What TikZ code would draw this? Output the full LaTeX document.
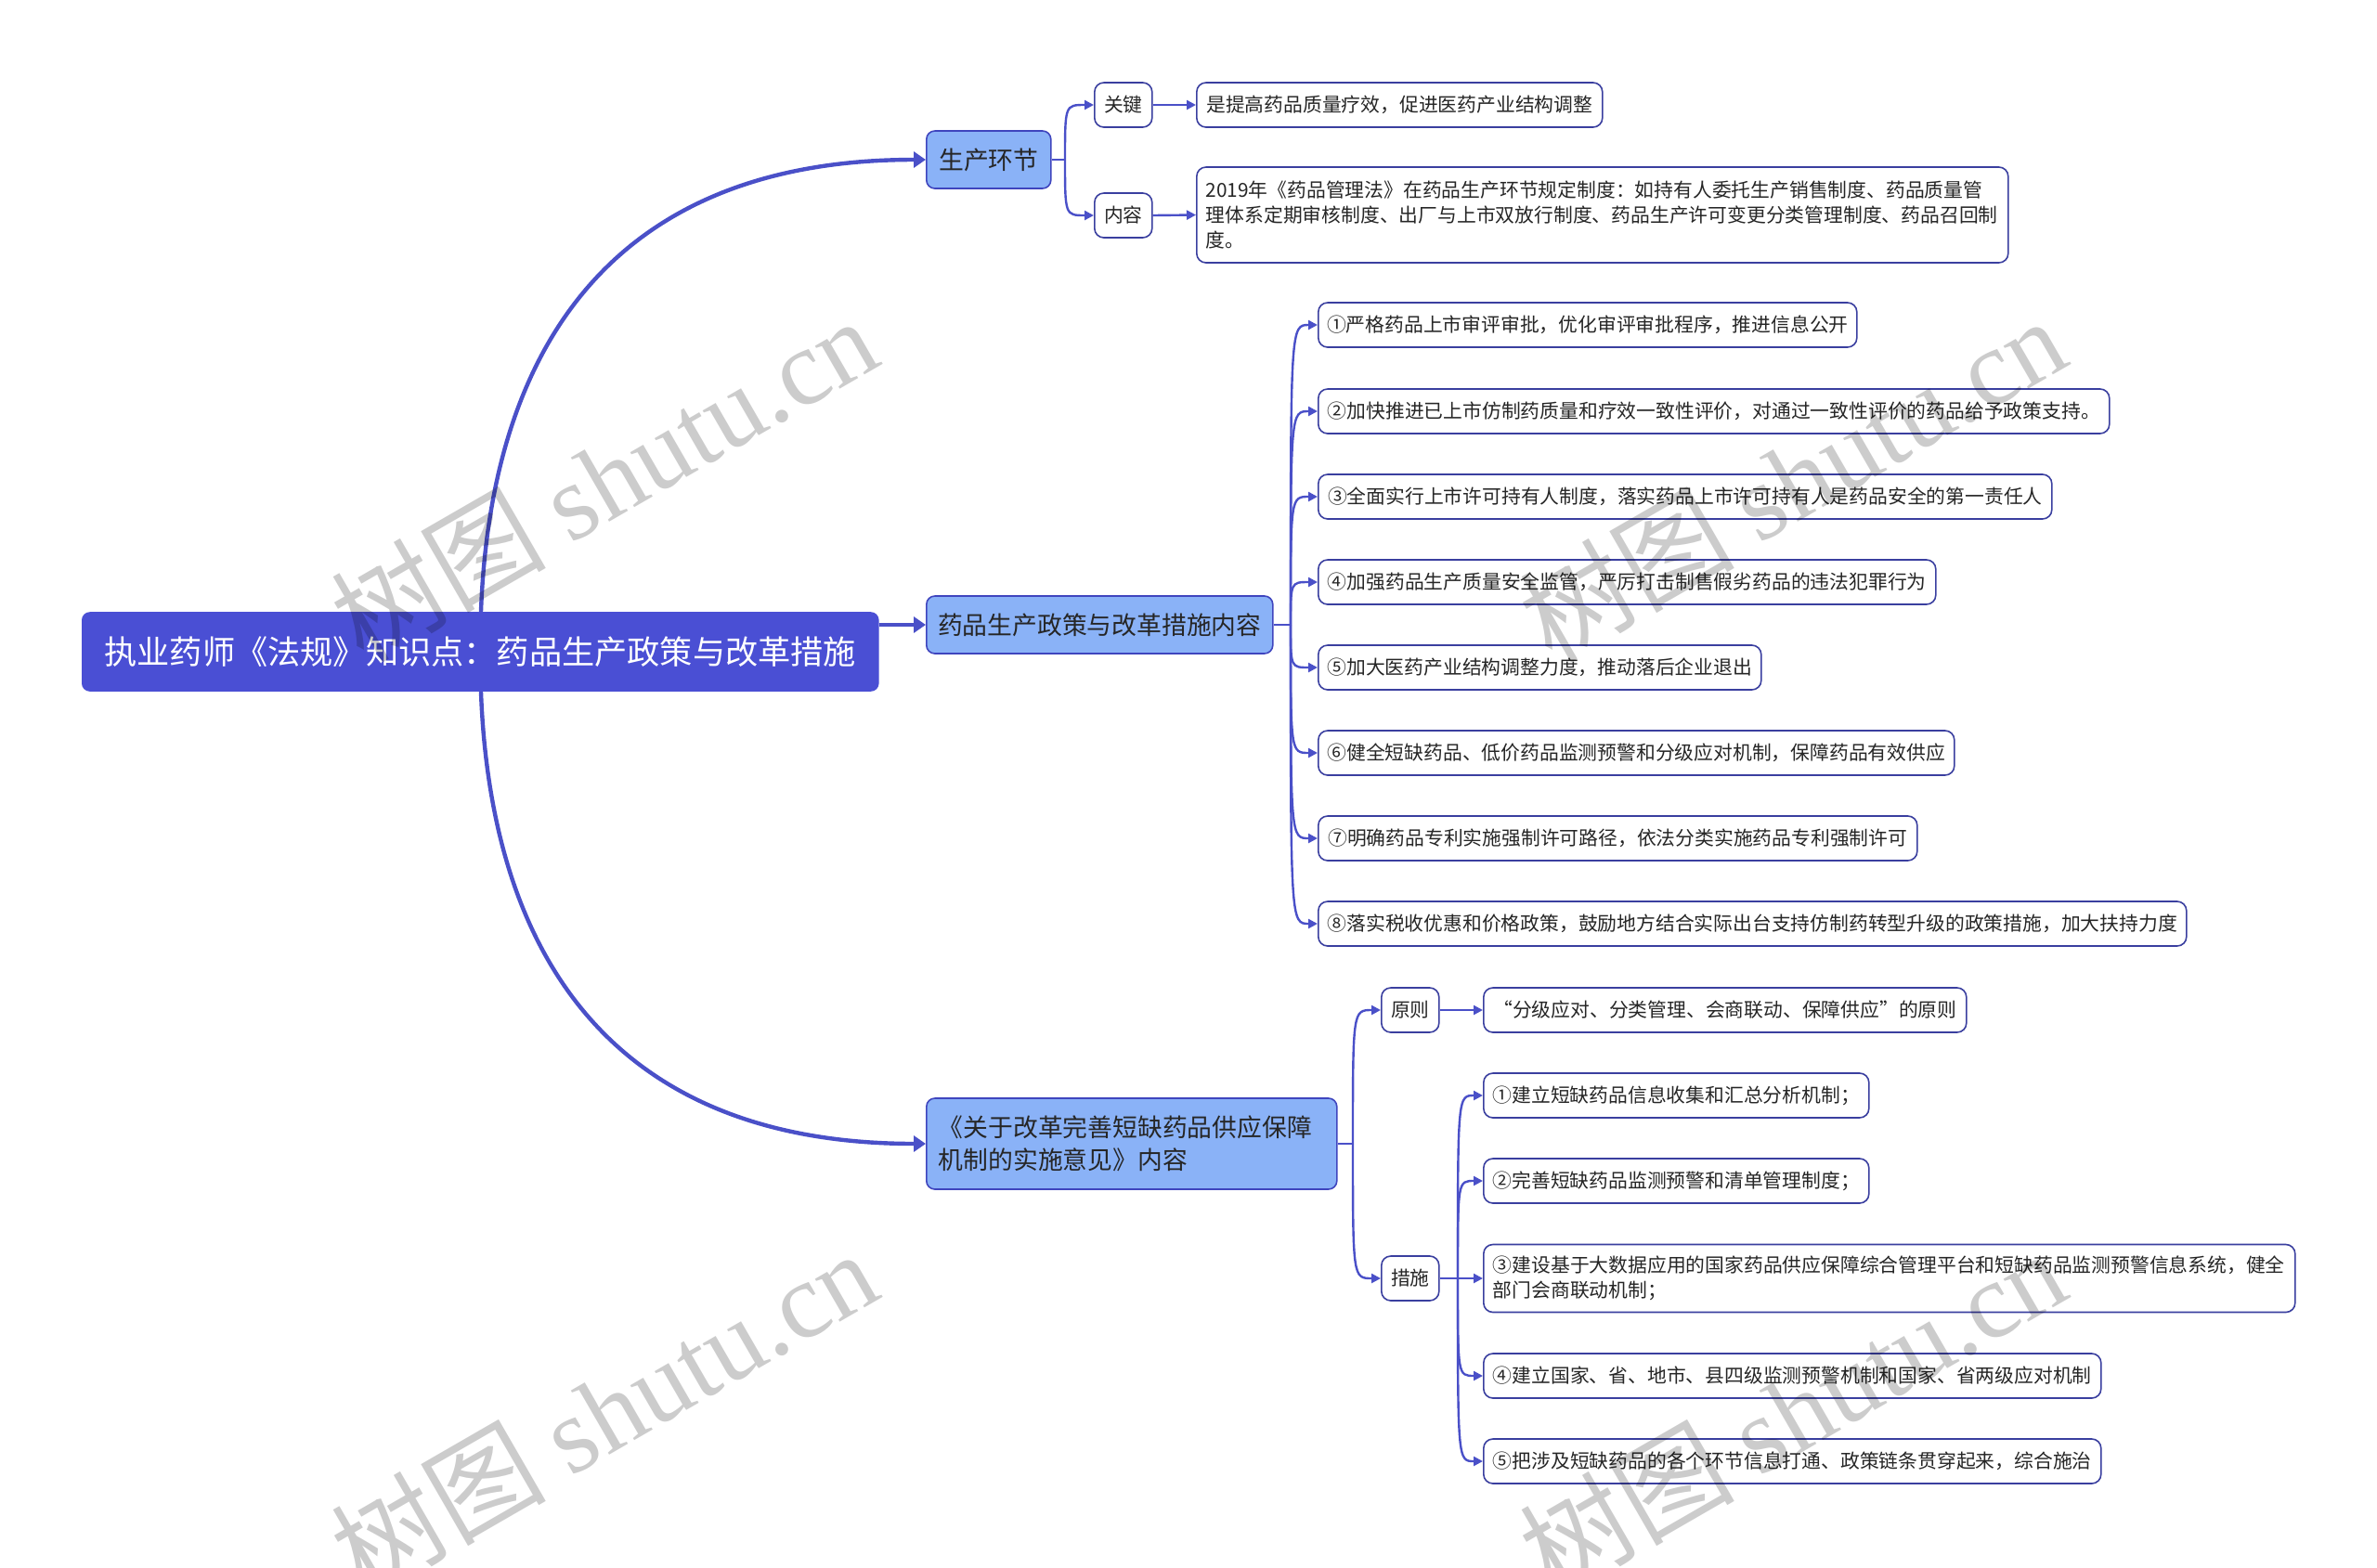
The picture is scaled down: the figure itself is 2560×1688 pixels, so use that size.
\documentclass[tikz,border=0pt]{standalone}
\usepackage{fontspec}
\setmainfont{Noto Sans CJK SC}
\newfontfamily\wmserif{Liberation Serif}
\usetikzlibrary{arrows.meta,calc}
\definecolor{rootfill}{HTML}{4A4FD4}
\definecolor{lonefill}{HTML}{8AB2F7}
\definecolor{loneborder}{HTML}{3F45BE}
\definecolor{lineblue}{HTML}{4A50C8}
\definecolor{leafborder}{HTML}{3A3F9F}
\definecolor{txt}{HTML}{262626}
\pgfdeclarelayer{bg}
\pgfsetlayers{bg,main}
\newcommand\brnch[2]{\draw[link] (#1) .. controls (#1 |- #2.west) .. (#2.west);}
\begin{document}
\begin{tikzpicture}[x=0.5pt,y=-0.5pt,
 rootbox/.style={draw=rootfill, fill=rootfill, rounded corners=4pt, text=white,
   font=\fontsize{17.6}{24}\selectfont, inner sep=0pt, line width=0.8pt},
 lonebox/.style={draw=loneborder, fill=lonefill, rounded corners=4.5pt, text=txt,
   font=\fontsize{13.4}{17.5}\selectfont, inner sep=0pt, line width=0.8pt, align=left},
 leafbox/.style={draw=leafborder, fill=white, rounded corners=5pt, text=txt,
   font=\fontsize{10.4}{13.5}\selectfont, inner sep=0pt, line width=0.8pt, align=left,
   minimum height=24pt, anchor=west},
 mainlink/.style={draw=lineblue, line width=2.2pt, -{Triangle[length=6.5pt,width=8.5pt]}},
 link/.style={draw=lineblue, line width=1.2pt, -{Triangle[length=5pt,width=5pt]}},
 plainlink/.style={draw=lineblue, line width=1.2pt},
 wm/.style={text=black, opacity=0.2, rotate=30, font=\fontsize{58}{58}\selectfont}
]
\useasboundingbox (0,0) rectangle (2560,1688);

% root and level one
\node[rootbox, minimum width=428.5pt, minimum height=42pt, anchor=west] (root) at (88,702)
  {执业药师《法规》知识点：药品生产政策与改革措施};
\node[lonebox, minimum width=67pt, minimum height=31pt, anchor=west] (la) at (997,172) {生产环节};
\node[lonebox, minimum width=186.5pt, minimum height=31pt, anchor=west] (lb) at (997,673) {药品生产政策与改革措施内容};
\node[lonebox, inner xsep=6.5pt, text width=208pt, minimum height=49pt, anchor=west] (lc) at (997,1232)
  {《关于改革完善短缺药品供应保障\\机制的实施意见》内容};

% branch A
\node[leafbox, minimum width=31pt] (key) at (1178,113) {关键};
\node[leafbox, minimum width=31pt] (cont) at (1178,232) {内容};
\node[leafbox, minimum width=218.5pt] (keyt) at (1288,113) {是提高药品质量疗效，促进医药产业结构调整};
\node[leafbox, inner xsep=5pt, text width=427pt, minimum height=51.5pt] (contt) at (1288,231.5)
  {2019年《药品管理法》在药品生产环节规定制度：如持有人委托生产销售制度、药品质量管\\理体系定期审核制度、出厂与上市双放行制度、药品生产许可变更分类管理制度、药品召回制\\度。};

% branch B
\node[leafbox, minimum width=290pt] (i1) at (1419,350) {①严格药品上市审评审批，优化审评审批程序，推进信息公开};
\node[leafbox, minimum width=426pt] (i2) at (1419,443) {②加快推进已上市仿制药质量和疗效一致性评价，对通过一致性评价的药品给予政策支持。};
\node[leafbox, minimum width=395pt] (i3) at (1419,535) {③全面实行上市许可持有人制度，落实药品上市许可持有人是药品安全的第一责任人};
\node[leafbox, minimum width=332.5pt] (i4) at (1419,627) {④加强药品生产质量安全监管，严厉打击制售假劣药品的违法犯罪行为};
\node[leafbox, minimum width=238.5pt] (i5) at (1419,719) {⑤加大医药产业结构调整力度，推动落后企业退出};
\node[leafbox, minimum width=342.5pt] (i6) at (1419,811) {⑥健全短缺药品、低价药品监测预警和分级应对机制，保障药品有效供应};
\node[leafbox, minimum width=322.5pt] (i7) at (1419,903) {⑦明确药品专利实施强制许可路径，依法分类实施药品专利强制许可};
\node[leafbox, minimum width=467.5pt] (i8) at (1419,995) {⑧落实税收优惠和价格政策，鼓励地方结合实际出台支持仿制药转型升级的政策措施，加大扶持力度};

% branch C
\node[leafbox, minimum width=31pt] (yz) at (1487,1088) {原则};
\node[leafbox, minimum width=260pt] (yzt) at (1597,1088) {“分级应对、分类管理、会商联动、保障供应”的原则};
\node[leafbox, minimum width=31pt] (cs) at (1487,1377) {措施};
\node[leafbox, minimum width=207.5pt] (m1) at (1597,1180) {①建立短缺药品信息收集和汇总分析机制；};
\node[leafbox, minimum width=207.5pt] (m2) at (1597,1272) {②完善短缺药品监测预警和清单管理制度；};
\node[leafbox, inner xsep=5pt, text width=427pt, minimum height=36.5pt] (m3) at (1597,1377)
  {③建设基于大数据应用的国家药品供应保障综合管理平台和短缺药品监测预警信息系统，健全\\部门会商联动机制；};
\node[leafbox, minimum width=332.5pt] (m4) at (1597,1482) {④建立国家、省、地市、县四级监测预警机制和国家、省两级应对机制};
\node[leafbox, minimum width=332.5pt] (m5) at (1597,1574) {⑤把涉及短缺药品的各个环节信息打通、政策链条贯穿起来，综合施治};

% junctions
\coordinate (jA) at (1147,172);
\coordinate (jB) at (1390,673);
\coordinate (jC) at (1457,1232);
\coordinate (jD) at (1570,1377);

\begin{pgfonlayer}{bg}
\draw[mainlink] (root.center) .. controls (516,400) and (640,172) .. (la.west);
\draw[mainlink] (root.center) .. controls (516,1004) and (640,1232) .. (lc.west);
\draw[mainlink] (root.east |- lb.west) -- (lb.west);

\draw[plainlink] (la.east) -- (jA);
\brnch{jA}{key}
\brnch{jA}{cont}
\draw[link] (key.east) -- (keyt.west);
\draw[link] (cont.east) -- (contt.west);

\draw[plainlink] (lb.east) -- (jB);
\brnch{jB}{i1}
\brnch{jB}{i2}
\brnch{jB}{i3}
\brnch{jB}{i4}
\brnch{jB}{i5}
\brnch{jB}{i6}
\brnch{jB}{i7}
\brnch{jB}{i8}

\draw[plainlink] (lc.east) -- (jC);
\brnch{jC}{yz}
\brnch{jC}{cs}
\draw[link] (yz.east) -- (yzt.west);

\draw[plainlink] (cs.east) -- (jD);
\brnch{jD}{m1}
\brnch{jD}{m2}
\draw[link] (jD) -- (m3.west);
\brnch{jD}{m4}
\brnch{jD}{m5}
\end{pgfonlayer}

% watermarks
\node[wm] (w1) at (650,515) {树图 {\wmserif shutu.cn}};
\node[wm] (w2) at (1930,515) {树图 {\wmserif shutu.cn}};
\node[wm] (w3) at (650,1520) {树图 {\wmserif shutu.cn}};
\node[wm] (w4) at (1930,1520) {树图 {\wmserif shutu.cn}};
\end{tikzpicture}
\end{document}
